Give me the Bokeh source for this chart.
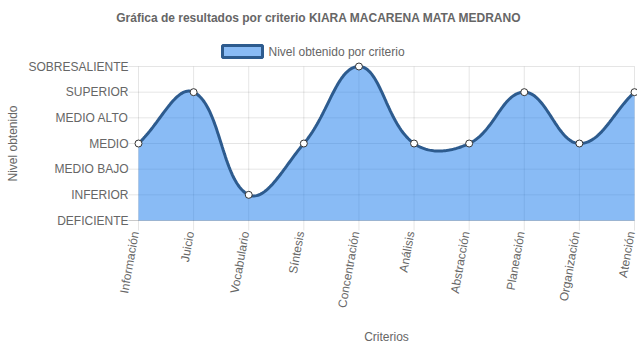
import math
from bokeh.plotting import figure
from bokeh.models import Range1d
from bokeh.core.properties import value
from bokeh.embed import file_html
from bokeh.resources import INLINE

# ---------------- data ----------------
criterios = ["Información", "Juicio", "Vocabulario", "Síntesis", "Concentración",
             "Análisis", "Abstracción", "Planeación", "Organización", "Atención"]
niveles = ["DEFICIENTE", "INFERIOR", "MEDIO BAJO", "MEDIO", "MEDIO ALTO",
           "SUPERIOR", "SOBRESALIENTE"]
resultados = ["MEDIO", "SUPERIOR", "INFERIOR", "MEDIO", "SOBRESALIENTE",
              "MEDIO", "MEDIO", "SUPERIOR", "MEDIO", "SUPERIOR"]

titulo = "Gráfica de resultados por criterio KIARA MACARENA MATA MEDRANO"
serie = "Nivel obtenido por criterio"
eje_y = "Nivel obtenido"
eje_x = "Criterios"

# ---------------- styling ----------------
FONT = "Liberation Sans"
TXT = "#666666"
FILL = "#1377EB"
LINE = "#2D5B8E"

valores = [niveles.index(r) for r in resultados]
n = len(criterios)
xs = list(range(n))
xmax = n - 1
ymax = len(niveles) - 1
ylev = list(range(len(niveles)))

# pixel geometry: chart area inside a full-canvas frame
W, H = 637, 348
left_px, right_px, top_px, bottom_px = 138, 634, 66, 220
SX = (right_px - left_px) / xmax
SY = (bottom_px - top_px) / ymax


def X(px):
    return (px - left_px) / SX


def Y(py):
    return (bottom_px - py) / SY


p = figure(width=W, height=H, x_range=Range1d(X(0), X(W)), y_range=Range1d(Y(H), Y(0)),
           output_backend="svg", toolbar_location=None,
           min_border_left=0, min_border_right=0, min_border_top=0, min_border_bottom=0)
p.outline_line_color = None
p.xaxis.visible = False
p.yaxis.visible = False
p.xgrid.visible = False
p.ygrid.visible = False

TICK = 10
# ---------------- gridlines + tick marks ----------------
p.segment(x0=[X(left_px - TICK)] * len(ylev), x1=[xmax] * len(ylev), y0=ylev, y1=ylev,
          line_color="black", line_alpha=0.1, line_width=1)
p.segment(x0=xs, x1=xs, y0=[Y(bottom_px + TICK)] * n, y1=[ymax] * n,
          line_color="black", line_alpha=0.1, line_width=1)
p.segment(x0=[X(left_px - TICK)], x1=[xmax], y0=[0], y1=[0],
          line_color="black", line_alpha=0.12, line_width=1)

# ---------------- Chart.js-style smoothing (tension 0.4) ----------------
px = [x * SX for x in xs]
py = [v * SY for v in valores]
t = 0.4
cp_prev, cp_next = [], []
for i in range(n):
    a = max(i - 1, 0)
    b = min(i + 1, n - 1)
    d01 = math.hypot(px[i] - px[a], py[i] - py[a])
    d12 = math.hypot(px[b] - px[i], py[b] - py[i])
    s = d01 + d12
    s01 = d01 / s if s else 0
    s12 = d12 / s if s else 0
    fa, fb = t * s01, t * s12
    pxp = px[i] - fa * (px[b] - px[a]); pyp = py[i] - fa * (py[b] - py[a])
    pxn = px[i] + fb * (px[b] - px[a]); pyn = py[i] + fb * (py[b] - py[a])
    clx = lambda v: min(max(v, 0), xmax * SX)
    cly = lambda v: min(max(v, 0), ymax * SY)
    cp_prev.append((clx(pxp) / SX, cly(pyp) / SY))
    cp_next.append((clx(pxn) / SX, cly(pyn) / SY))

cx, cy = [], []
steps = 40
for i in range(n - 1):
    p0 = (xs[i], valores[i]); p1 = cp_next[i]; p2 = cp_prev[i + 1]; p3 = (xs[i + 1], valores[i + 1])
    for k in range(steps + (1 if i == n - 2 else 0)):
        u = k / steps
        m = 1 - u
        cx.append(m**3 * p0[0] + 3 * m * m * u * p1[0] + 3 * m * u * u * p2[0] + u**3 * p3[0])
        cy.append(m**3 * p0[1] + 3 * m * m * u * p1[1] + 3 * m * u * u * p2[1] + u**3 * p3[1])

p.varea(x=cx, y1=[0] * len(cx), y2=cy, fill_color=FILL, fill_alpha=0.5)
p.line(x=cx, y=cy, line_color=LINE, line_width=3)
p.scatter(x=xs, y=valores, size=7, fill_color="white", line_color="#333333", line_width=1)

# ---------------- tick labels ----------------
common = dict(text_font=value(FONT), text_font_size="12px", text_color=TXT)
p.text(x=[X(left_px - TICK)] * len(ylev), y=ylev, text=niveles,
       text_align="right", text_baseline="middle", **common)
p.text(x=[x - 3.5 / SX for x in xs], y=[Y(bottom_px + 11)] * n, text=criterios,
       angle=math.radians(80), text_align="right", text_baseline="middle", **common)

# ---------------- legend ----------------
p.quad(left=[X(222)], right=[X(262)], top=[Y(45)], bottom=[Y(57)],
       fill_color=FILL, fill_alpha=0.5, line_color=LINE, line_width=3)
p.text(x=[X(268)], y=[Y(51)], text=[serie], text_align="left", text_baseline="middle", **common)

# ---------------- titles ----------------
p.text(x=[X(318.5)], y=[Y(17)], text=[titulo], text_align="center", text_baseline="middle",
       text_font_style="bold", **common)
p.text(x=[X(12)], y=[Y(143)], text=[eje_y], angle=math.pi / 2, text_align="center",
       text_baseline="middle", **common)
p.text(x=[X(386)], y=[Y(336)], text=[eje_x], text_align="center", text_baseline="middle", **common)

open("out.html", "w").write(file_html(p, INLINE))
